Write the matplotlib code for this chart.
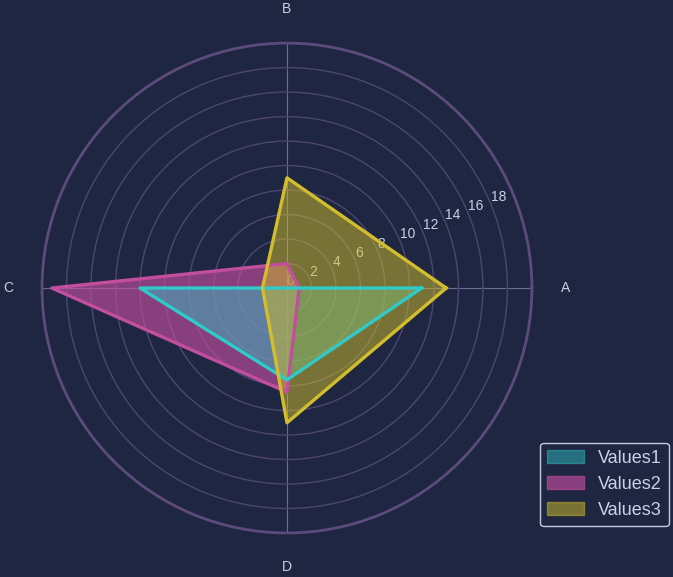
import numpy as np
import matplotlib.pyplot as plt

plt.rcParams['font.family'] = ['Liberation Sans', 'DejaVu Sans']

categories = ['A', 'B', 'C', 'D']
values1 = [11, 0, 12, 7.5]
values2 = [1, 2, 19.2, 8.5]
values3 = [13, 9, 2, 11]
series_names = ['Values1', 'Values2', 'Values3']

bg = '#1f2642'
text_col = '#c9d1e4'
colors = ['#2fcaca', '#c24e9e', '#d2be2c']
fill_alpha = [0.45, 0.65, 0.5]
layer = [3, 2, 4]

angles = np.deg2rad([0, 90, 180, 270])

fig = plt.figure(figsize=(6.73, 5.77), dpi=100, facecolor=bg)
ax = fig.add_axes([0.0624, 0.0763, 0.728, 0.849], projection='polar', facecolor=bg)

for vals, name, col, al, z in zip([values1, values2, values3], series_names, colors, fill_alpha, layer):
    a = np.append(angles, angles[0])
    v = np.append(vals, vals[0])
    ax.fill(a, v, color=col, alpha=al, label=name, zorder=z)
    # edges sit above every fill
    ax.plot(a, v, color=col, linewidth=2.4, zorder=z + 5)

ax.set_xticks(angles)
ax.set_xticklabels(categories, color=text_col, fontsize=10)
ax.tick_params(axis='x', pad=14)
ax.set_ylim(0, 20)
ax.set_yticks(np.arange(0, 20, 2))
ax.set_yticklabels([str(t) for t in range(0, 20, 2)], color=text_col, fontsize=10)
ax.set_rlabel_position(22.5)
ax.yaxis.grid(True, color='#4c4670', linewidth=1)
ax.xaxis.grid(True, color='#6c6c8c', linewidth=0.8)
ax.spines['polar'].set_color('#5c4c7c')
ax.spines['polar'].set_linewidth(2)

leg = fig.legend(loc='lower right', bbox_to_anchor=(0.994, 0.088), borderaxespad=0,
                 fontsize=13, facecolor=bg, edgecolor='#c4cadc', framealpha=1)
for t in leg.get_texts():
    t.set_color(text_col)

fig.savefig('out.png', dpi=100, facecolor=bg)
